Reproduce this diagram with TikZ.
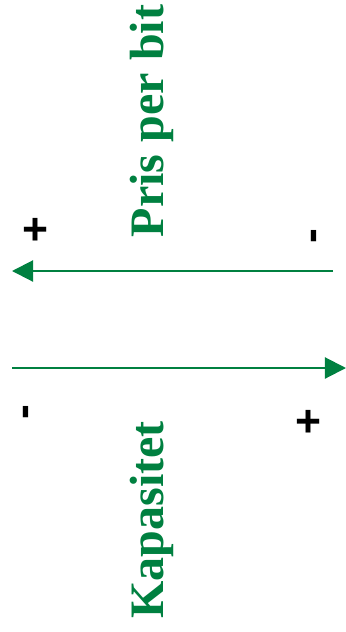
\documentclass[tikz,border=0pt]{standalone}
\usepackage{fontspec}
\setmainfont{Liberation Serif}
\newfontfamily\signfont{Liberation Sans}
\usetikzlibrary{
  arrows.meta,  % Triangle arrow tips
  positioning   % relative placement
}
\definecolor{scalegreen}{RGB}{0,128,64}
\tikzset{
  scale arrow/.style={
    -{Triangle[length=18pt, width=18pt]},
    line width=1.8pt,
    color=scalegreen
  },
  scale label/.style={
    font=\fontsize{41}{41}\selectfont\bfseries,
    text=scalegreen,
    rotate=90,
    inner sep=0pt
  },
  sign/.style={
    font=\fontsize{38}{38}\selectfont\signfont\bfseries,
    inner sep=0pt
  }
}

\begin{document}
\begin{tikzpicture}[x=0.03cm, y=-0.03cm]
    % frame of the picture
    \useasboundingbox (0,0) rectangle (346,632);

    % 1. price scale (top arrow, pointing left)
    \coordinate (priceStart) at (333,271);
    \coordinate (priceEnd) at (12,271);
    \draw[scale arrow] (priceStart) -- (priceEnd);
    \node[scale label] (price) at (152,121) {Pris per bit};
    \node[sign] (pricePlus) at (35,231) {+};
    \node[sign, rotate=90] (priceMinus) at (318,236) {-};

    % 2. capacity scale (bottom arrow, pointing right)
    \coordinate (capStart) at (12,368);
    \coordinate (capEnd) at (346,368);
    \draw[scale arrow] (capStart) -- (capEnd);
    \node[scale label] (capacity) at (152,520) {Kapasitet};
    \node[sign, rotate=90] (capMinus) at (30,412) {-};
    \node[sign] (capPlus) at (308,423) {+};

  \end{tikzpicture}
\end{document}
